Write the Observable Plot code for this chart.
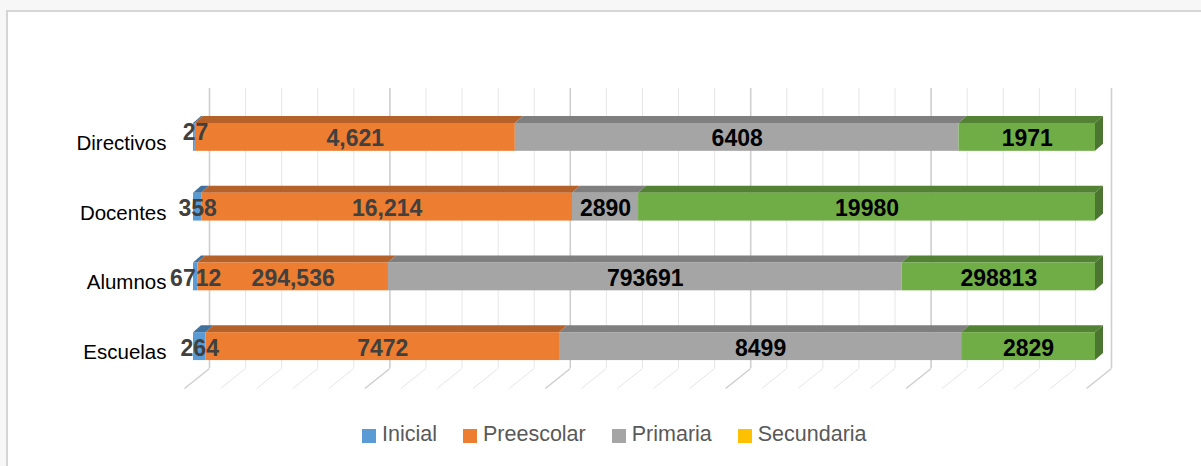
<!DOCTYPE html>
<html>
<head>
<meta charset="utf-8">
<script src="https://cdn.jsdelivr.net/npm/d3@7"></script>
<script src="https://cdn.jsdelivr.net/npm/@observablehq/plot@0.6"></script>
<style>
  html, body { margin: 0; padding: 0; background: #f7f7f7; width: 1201px; height: 466px; overflow: hidden; }
  #panel { position: absolute; left: 6px; top: 10px; width: 1200px; height: 460px; background: #fff;
           border-top: 2px solid #d5d5d5; border-left: 2px solid #d5d5d5; }
  #chart { position: absolute; left: 0; top: 0; }
  #legend { position: absolute; left: 362px; top: 422px; display: flex; align-items: center;
            font-family: "Liberation Sans", Arial, sans-serif; font-size: 21.5px; line-height: 24px; color: #595959; }
  .item { display: flex; align-items: center; margin-right: 26px; }
  .item:last-child { margin-right: 0; }
  .sw { width: 14px; height: 14px; margin-right: 6px; margin-top: 3px; }
</style>
</head>
<body>
<div id="panel"></div>
<div id="chart"></div>
<div id="legend"></div>
<script>
// ---- Data ----
const categories = ["Directivos", "Docentes", "Alumnos", "Escuelas"];
const series = ["Inicial", "Preescolar", "Primaria", "Secundaria"];
const inicial    = [27, 358, 6712, 264];
const preescolar = [4621, 16214, 294536, 7472];
const primaria   = [6408, 2890, 793691, 8499];
const secundaria = [1971, 19980, 298813, 2829];
// labels shown with thousands separator in the original
const commaLabelled = { Preescolar: ["Directivos", "Docentes", "Alumnos"] };

// ---- Styles ----
const legendColors = ["#5B9BD5", "#ED7D31", "#A5A5A5", "#FFC000"];
const frontColors  = ["#5B9BD5", "#ED7D31", "#A5A5A5", "#70AD47"];
const topColors    = ["#41719C", "#B4612A", "#7F7F7F", "#548235"];
const sideColor    = "#4B7530";
const labelColors  = ["#404040", "#404040", "#000000", "#000000"];
const FONT = '"Liberation Sans", Arial, Helvetica, sans-serif';

// ---- Geometry (pixel layout → data units) ----
const X0 = 193, X1 = 1095, Y0 = 102, Y1 = 381;
const pxX = (X1 - X0), pxY = (Y1 - Y0) / categories.length;
const BAR_HALF = 0.2;              // half bar thickness, band units
const DX = 8 / pxX, DY = 7 / pxY;  // 3D depth
const WALL_DX = 16;                // back wall offset, px
const FLOOR_BACK = (368 - Y0) / pxY, FLOOR_FRONT = (388 - Y0) / pxY, FLOOR_SHIFT = 25 / pxX;

// ---- Build normalized stacks ----
const valuesBySeries = [inicial, preescolar, primaria, secundaria];
const rows = [];
categories.forEach((cat, i) => {
  const vals = valuesBySeries.map(v => v[i]);
  const total = d3.sum(vals);
  let acc = 0;
  series.forEach((s, j) => {
    const x1 = acc / total; acc += vals[j]; const x2 = acc / total;
    rows.push({ id: cat + "-" + s, cat, i, series: s, j, value: vals[j], x1, x2,
                top: i + 0.5 - BAR_HALF, bottom: i + 0.5 + BAR_HALF });
  });
});
const topFaces = rows.flatMap(r => [
  { id: r.id, j: r.j, x1: r.x1, x2: r.x2, y: r.top },
  { id: r.id, j: r.j, x1: r.x1 + DX, x2: r.x2 + DX, y: r.top - DY }
]);
const sideFaces = rows.filter(r => r.j === series.length - 1).flatMap(r => [
  { id: r.id, x: r.x2, y1: r.top, y2: r.bottom },
  { id: r.id, x: r.x2 + DX, y1: r.top - DY, y2: r.bottom - DY }
]);
const fmtComma = d3.format(",");
const labelOf = d => (commaLabelled[d.series] || []).includes(d.cat) ? fmtComma(d.value) : String(d.value);

const ticks = d3.range(0, 26).map(k => k / 25);
const major = ticks.filter((t, k) => k % 5 === 0);
const minor = ticks.filter((t, k) => k % 5 !== 0);

const raised = d => d.cat === "Directivos" && d.series === "Inicial";

const chart = Plot.plot({
  width: 1201,
  height: 410,
  marginLeft: X0, marginRight: 1201 - X1, marginTop: 88, marginBottom: 42,
  x: { domain: [0, 1], range: [X0, X1], axis: null },
  y: { domain: [0, categories.length], range: [Y0, Y1], axis: null },
  color: { type: "identity" },
  style: { background: "transparent", fontFamily: FONT, overflow: "visible" },
  marks: [
    // back wall gridlines
    Plot.ruleX(minor, { x: d => d, dx: WALL_DX, stroke: "#e6e6e6", strokeWidth: 1 }),
    Plot.ruleX(major, { x: d => d, dx: WALL_DX, stroke: "#cfcfcf", strokeWidth: 1.6 }),
    // floor lines
    Plot.link(minor, { x1: d => d, x2: d => d - FLOOR_SHIFT, y1: () => FLOOR_BACK, y2: () => FLOOR_FRONT,
                       dx: WALL_DX, stroke: "#e6e6e6", strokeWidth: 1 }),
    Plot.link(major, { x1: d => d, x2: d => d - FLOOR_SHIFT, y1: () => FLOOR_BACK, y2: () => FLOOR_FRONT,
                       dx: WALL_DX, stroke: "#cfcfcf", strokeWidth: 1.6 }),
    // 3D top faces
    Plot.areaX(topFaces, { y: "y", x1: "x1", x2: "x2", z: "id", fill: d => topColors[d.j] }),
    // 3D right side faces
    Plot.areaY(sideFaces, { x: "x", y1: "y1", y2: "y2", z: "id", fill: () => sideColor }),
    // front faces
    Plot.rect(rows, { x1: "x1", x2: "x2", y1: "top", y2: "bottom", fill: d => frontColors[d.j] }),
    // value labels
    Plot.text(rows.filter(d => !raised(d)), {
      x: d => (d.x1 + d.x2) / 2, y: d => d.i + 0.5, text: labelOf,
      fill: d => labelColors[d.j], fontSize: 23, fontWeight: "bold", fontFamily: FONT, dy: 1.5
    }),
    Plot.text(rows.filter(raised), {
      x: d => (d.x1 + d.x2) / 2, y: d => d.i + 0.5, text: labelOf, dx: 1,
      fill: d => labelColors[d.j], fontSize: 23, fontWeight: "bold", fontFamily: FONT, dy: -5
    }),
    // category labels
    Plot.text(categories, {
      x: () => 0, y: (d, i) => i + 0.5, text: d => d, textAnchor: "end",
      dx: -27, dy: 6, fontSize: 20.5, fill: "#000000", fontFamily: FONT
    })
  ]
});
document.getElementById("chart").appendChild(chart);

// legend
const legend = document.getElementById("legend");
series.forEach((s, j) => {
  const item = document.createElement("div");
  item.className = "item";
  const sw = document.createElement("span");
  sw.className = "sw";
  sw.style.background = legendColors[j];
  const lab = document.createElement("span");
  lab.textContent = s;
  item.appendChild(sw); item.appendChild(lab);
  legend.appendChild(item);
});
</script>
</body>
</html>
